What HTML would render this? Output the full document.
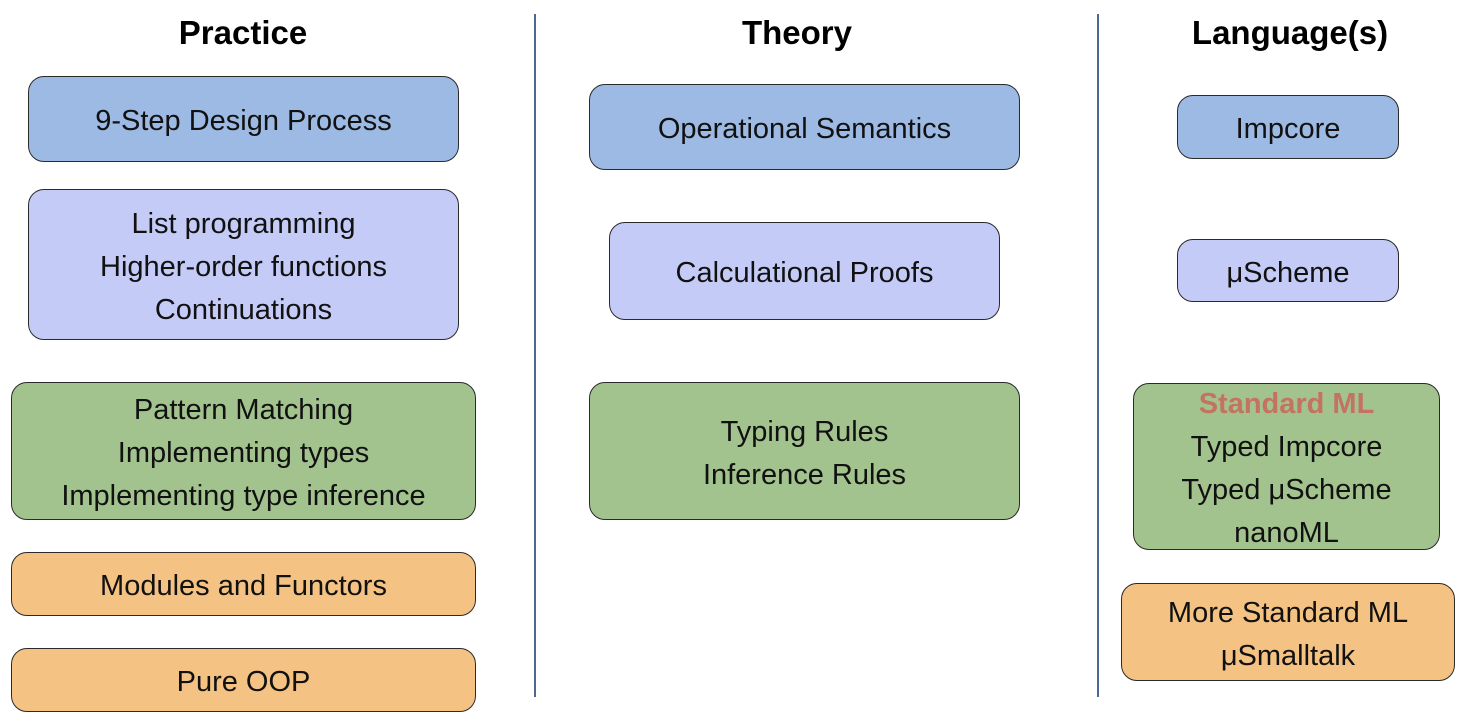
<!DOCTYPE html>
<html><head><meta charset="utf-8"><style>
body{margin:0;width:1466px;height:720px;background:#fff;position:relative;overflow:hidden;font-family:"Liberation Sans",sans-serif;}
.b{position:absolute;box-sizing:border-box;border:1.5px solid #2a2a2a;border-radius:16px;display:flex;flex-direction:column;justify-content:center;align-items:center;text-align:center;font-size:29px;line-height:43px;color:#111;white-space:nowrap;padding-top:5px;}
.bl{background:#9dbae4}.lv{background:#c5cbf7}.gr{background:#a3c38e}.or{background:#f4c283}
.h{position:absolute;top:14px;font-weight:bold;font-size:33px;transform:translateX(-50%);color:#000;white-space:nowrap;}
.v{position:absolute;width:2px;background:#4a6890;top:14px;height:683px;}
</style></head><body>
<div class="h" style="left:243px">Practice</div>
<div class="h" style="left:797px">Theory</div>
<div class="h" style="left:1290px">Language(s)</div>
<div class="v" style="left:534px"></div>
<div class="v" style="left:1097px"></div>

<div class="b bl" style="left:28px;top:76px;width:431px;height:86px">9-Step Design Process</div>
<div class="b lv" style="left:28px;top:189px;width:431px;height:151px">List programming<br>Higher-order functions<br>Continuations</div>
<div class="b gr" style="left:11px;top:382px;width:465px;height:138px">Pattern Matching<br>Implementing types<br>Implementing type inference</div>
<div class="b or" style="left:11px;top:552px;width:465px;height:64px">Modules and Functors</div>
<div class="b or" style="left:11px;top:648px;width:465px;height:64px">Pure OOP</div>

<div class="b bl" style="left:589px;top:84px;width:431px;height:86px">Operational Semantics</div>
<div class="b lv" style="left:609px;top:222px;width:391px;height:98px">Calculational Proofs</div>
<div class="b gr" style="left:589px;top:382px;width:431px;height:138px">Typing Rules<br>Inference Rules</div>

<div class="b bl" style="left:1177px;top:95px;width:222px;height:64px">Impcore</div>
<div class="b lv" style="left:1177px;top:239px;width:222px;height:63px">μScheme</div>
<div class="b gr" style="left:1133px;top:383px;width:307px;height:167px"><span style="color:#c47262;font-weight:bold">Standard ML</span>Typed Impcore<br>Typed μScheme<br>nanoML</div>
<div class="b or" style="left:1121px;top:583px;width:334px;height:98px">More Standard ML<br>μSmalltalk</div>
</body></html>
